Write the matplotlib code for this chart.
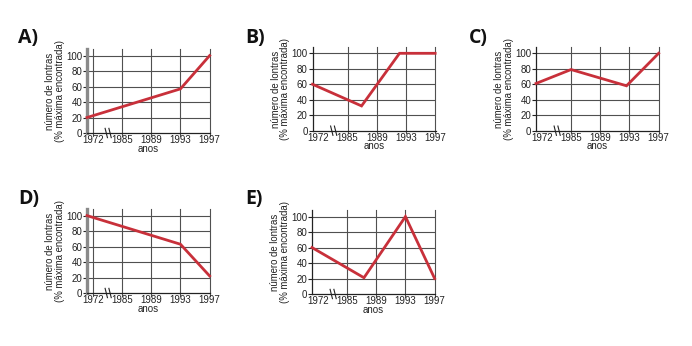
import matplotlib
matplotlib.use("Agg")
import matplotlib.pyplot as plt

# eixo x: posicoes igualmente espacadas (0 = 1972 ... 4 = 1997)
anos_labels = ["1972", "1985", "1989", "1993", "1997"]
y_ticks = [0, 20, 40, 60, 80, 100]

a_x = [-0.2, 3.0, 4.0]
a_y = [20, 57, 100]

b_x = [-0.2, 1.48, 2.78, 4.0]
b_y = [60, 32, 100, 100]

c_x = [-0.2, 1.0, 2.9, 4.0]
c_y = [61, 79, 58, 100]

d_x = [-0.2, 3.0, 4.0]
d_y = [100, 63, 22]

e_x = [-0.2, 1.58, 3.0, 4.0]
e_y = [60, 21, 100, 20]

W, H = 692, 346
RED = "#c8303a"
GRID = "#505050"

plt.rcParams["font.family"] = ["Liberation Sans", "DejaVu Sans"]

fig = plt.figure(figsize=(W / 100, H / 100), dpi=100)


def panel(letter, left_px, y0_px, xs, ys, gray_spine, label_xy):
    step = 29.2
    width = 4.22 * step
    height = 108 * 0.774
    ax = fig.add_axes([left_px / W, (H - y0_px) / H, width / W, height / H])
    ax.set_xlim(-0.2, 4.02)
    ax.set_ylim(0, 108)

    xt = list(range(len(anos_labels)))
    ax.set_xticks(xt)
    ax.set_xticklabels(anos_labels)
    ax.set_yticks(y_ticks)

    # grade
    for v in y_ticks[1:]:
        ax.axhline(v, color=GRID, lw=0.8, zorder=1)
    start = 0 if gray_spine else 1
    for v in xt[start:]:
        ax.axvline(v, ymin=-0.03, color=GRID, lw=0.8, zorder=1, clip_on=False)

    ax.plot(xs, ys, color=RED, lw=2.0, zorder=3, solid_joinstyle="miter", clip_on=False)

    for s in ["top", "right"]:
        ax.spines[s].set_visible(False)
    ax.spines["bottom"].set_color("#222222")
    ax.spines["bottom"].set_linewidth(0.9)
    if gray_spine:
        ax.spines["left"].set_color("#8a8a8a")
        ax.spines["left"].set_linewidth(2.4)
    else:
        ax.spines["left"].set_color("#222222")
        ax.spines["left"].set_linewidth(0.9)

    ax.tick_params(axis="y", length=3, width=0.8, pad=0.5, labelsize=7,
                   color="#222222", labelcolor="#222222")
    ax.tick_params(axis="x", length=0, pad=1.5, labelsize=7, labelcolor="#222222")

    ax.set_xlabel("anos", fontsize=7, labelpad=-1, color="#222222")
    ax.set_ylabel("número de lontras\n(% máxima encontrada)", fontsize=6.9,
                  labelpad=1, color="#222222", linespacing=0.95)

    # marcas de quebra no eixo x
    for bx in (0.42, 0.55):
        ax.plot([bx, bx + 0.08], [6, -6], color="#222222", lw=0.8,
                clip_on=False, zorder=4)

    fig.text(label_xy[0] / W, 1 - label_xy[1] / H, letter, fontsize=14,
             fontweight="bold", family=["Open Sans", "DejaVu Sans"],
             va="baseline", ha="left", color="#111111")
    return ax


panel("A)", 87, 133, a_x, a_y, True, (18, 43))
panel("B)", 312.5, 130.7, b_x, b_y, False, (245, 43))
panel("C)", 536, 130.7, c_x, c_y, False, (469, 43))
panel("D)", 87, 293, d_x, d_y, True, (18, 204))
panel("E)", 312, 294, e_x, e_y, False, (245, 204))

fig.savefig("out.png", dpi=100, facecolor="white")
